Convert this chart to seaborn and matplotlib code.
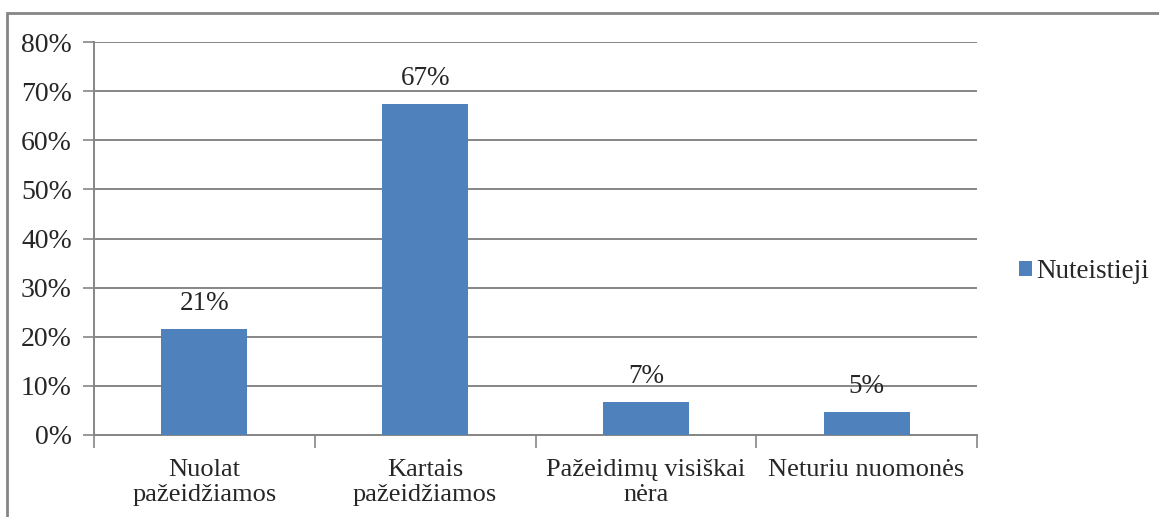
import pandas as pd
import seaborn as sns
import matplotlib.pyplot as plt
from matplotlib.patches import Rectangle

categories = ["Nuolat\npažeidžiamos", "Kartais\npažeidžiamos",
              "Pažeidimų visiškai\nnėra", "Neturiu nuomonės"]
values = [0.215, 0.673, 0.067, 0.047]
value_labels = ["21%", "67%", "7%", "5%"]
series = "Nuteistieji"
y_ticks = [0, 0.1, 0.2, 0.3, 0.4, 0.5, 0.6, 0.7, 0.8]
y_tick_labels = ["0%", "10%", "20%", "30%", "40%", "50%", "60%", "70%", "80%"]

df = pd.DataFrame({"category": categories, "value": values, "series": series})

sns.set_style("white")
plt.rcParams["font.family"] = ["Liberation Serif", "DejaVu Serif"]

grid_col = "#868686"
fs = 20
fig = plt.figure(figsize=(11.59, 5.17), dpi=100)
ax = fig.add_axes([94 / 1159, 82 / 517, 883 / 1159, 393 / 517])

sns.barplot(data=df, x="category", y="value", hue="series",
            palette=["#4F81BD"], width=0.39, saturation=1, linewidth=0,
            ax=ax, zorder=3)

ax.set_ylim(0, 0.8)
ax.set_xlim(-0.5, len(categories) - 0.5)
ax.set_yticks(y_ticks)
ax.set_yticklabels(y_tick_labels, fontsize=fs)
ax.yaxis.grid(True, color=grid_col, linewidth=1.4, zorder=0)
ax.set_axisbelow(True)

# ticks between categories
ax.set_xticks([i + 0.5 for i in range(-1, len(categories))], minor=True)
ax.tick_params(axis="x", which="minor", length=9, color=grid_col, width=1.2,
               direction="out", bottom=True)
ax.tick_params(axis="x", which="major", length=0, labelsize=19, pad=17)
for t in ax.get_xticklabels():
    t.set_linespacing(1.22)
ax.tick_params(axis="y", length=8, color=grid_col, width=1.2,
               direction="out", left=True, pad=8)

for s in ["top", "right"]:
    ax.spines[s].set_visible(False)
for s in ["left", "bottom"]:
    ax.spines[s].set_color(grid_col)
    ax.spines[s].set_linewidth(1.4)

ax.set_xlabel("")
ax.set_ylabel("")

for i, (v, lab) in enumerate(zip(values, value_labels)):
    ax.text(i, v + 0.027, lab, ha="center", va="bottom", fontsize=19.5)

ax.legend(loc="center left", bbox_to_anchor=(1.0475, 0.415), frameon=False,
          fontsize=19.5, handlelength=0.48, handleheight=0.48,
          handletextpad=0.15, borderaxespad=0, borderpad=0)

fig.patches.append(Rectangle((7 / 1159, -0.1), 1.2, 0.1 + 504 / 517,
                             transform=fig.transFigure, fill=False,
                             edgecolor=grid_col, linewidth=2))

fig.savefig("out.png", dpi=100)
